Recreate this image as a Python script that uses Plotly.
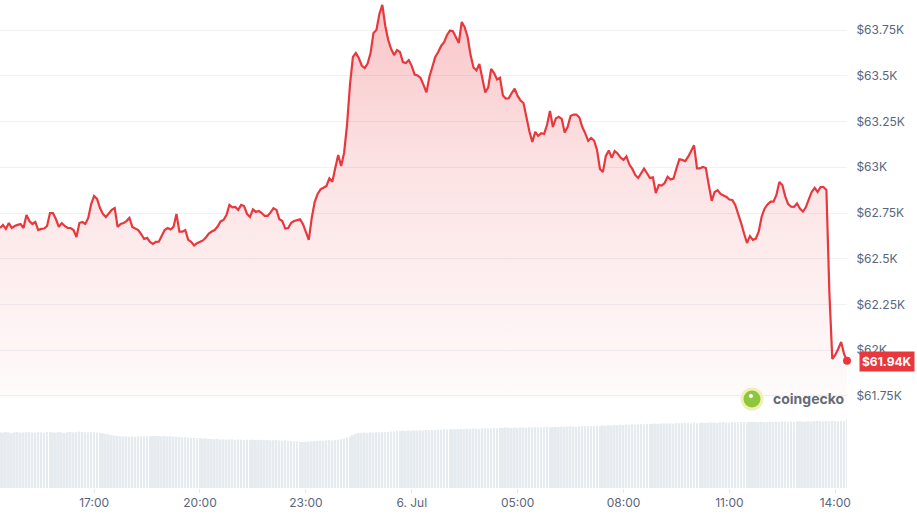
import pandas as pd
import plotly.graph_objects as go

# 24h of 5-minute candles
start_time = "2024-07-05 14:20"

prices = [
    62668, 62685, 62663, 62695, 62668, 62679, 62685, 62690, 62668, 62739, 62706, 62690,
    62701, 62657, 62663, 62665, 62679, 62750, 62750, 62717, 62674, 62695, 62679, 62668,
    62668, 62657, 62619, 62695, 62701, 62690, 62723, 62799, 62843, 62827, 62777, 62745,
    62728, 62750, 62767, 62777, 62674, 62690, 62695, 62706, 62723, 62674, 62665, 62657,
    62635, 62608, 62614, 62592, 62581, 62592, 62593, 62621, 62657, 62668, 62660, 62674,
    62745, 62648, 62648, 62657, 62603, 62592, 62573, 62585, 62592, 62600, 62616, 62638,
    62649, 62657, 62676, 62704, 62712, 62739, 62794, 62781, 62783, 62767, 62794, 62788,
    62745, 62728, 62770, 62756, 62761, 62750, 62734, 62734, 62753, 62776, 62767, 62716,
    62706, 62665, 62668, 62697, 62706, 62712, 62715, 62690, 62641, 62603, 62723, 62810,
    62854, 62879, 62888, 62898, 62939, 62921, 62996, 63067, 63007, 63078, 63231, 63450,
    63603, 63624, 63597, 63556, 63542, 63567, 63624, 63734, 63750, 63838, 63887, 63772,
    63695, 63646, 63613, 63641, 63630, 63575, 63570, 63586, 63553, 63506, 63501, 63488,
    63450, 63409, 63493, 63553, 63603, 63630, 63663, 63684, 63723, 63747, 63743, 63712,
    63679, 63794, 63766, 63712, 63613, 63545, 63529, 63564, 63477, 63409, 63436, 63537,
    63515, 63480, 63489, 63392, 63375, 63377, 63406, 63429, 63390, 63365, 63351, 63264,
    63197, 63138, 63193, 63171, 63186, 63182, 63231, 63308, 63220, 63267, 63276, 63264,
    63190, 63220, 63280, 63288, 63288, 63272, 63220, 63185, 63144, 63160, 63146, 63094,
    62991, 62974, 63062, 63092, 63051, 63089, 63075, 63053, 63040, 63059, 63015, 62991,
    62958, 62941, 62971, 62993, 62967, 62941, 62945, 62859, 62903, 62900, 62914, 62948,
    62933, 62938, 62993, 63043, 63040, 63033, 63058, 63092, 63120, 62994, 62994, 63002,
    62996, 62903, 62816, 62865, 62875, 62854, 62845, 62838, 62824, 62821, 62794, 62750,
    62695, 62638, 62586, 62624, 62603, 62610, 62649, 62731, 62775, 62797, 62812, 62812,
    62849, 62920, 62903, 62841, 62799, 62784, 62783, 62802, 62774, 62758, 62781, 62825,
    62865, 62887, 62865, 62892, 62892, 62876, 62319, 61952, 61974, 62007, 62045, 61980,
    61942,
]

# rolling volume, $B
volumes = [
    24.2, 24.1, 24.3, 24.2, 23.9, 24.2, 24.3, 24.1, 24.2, 24.4, 24.3, 24.2,
    24.1, 24.3, 24.2, 24.0, 24.4, 24.3, 24.2, 24.1, 24.3, 24.2, 24.0, 24.3,
    24.4, 24.2, 24.3, 24.5, 24.4, 24.3, 24.2, 24.4, 24.3, 24.1, 23.9, 23.8,
    23.5, 23.3, 23.0, 22.8, 22.6, 22.5, 22.4, 22.5, 22.3, 22.4, 22.3, 22.4,
    22.5, 22.4, 22.6, 22.5, 22.6, 22.7, 22.6, 22.5, 22.6, 22.4, 22.5, 22.3,
    22.3, 22.2, 22.0, 22.1, 21.9, 21.8, 21.7, 21.6, 21.7, 21.5, 21.6, 21.4,
    21.3, 21.2, 21.3, 21.1, 21.2, 21.0, 21.1, 21.2, 21.0, 21.1, 21.0, 20.9,
    21.0, 20.9, 21.0, 20.8, 20.9, 21.0, 20.8, 20.9, 20.7, 20.8, 20.9, 20.7,
    20.6, 20.7, 20.5, 20.4, 20.3, 20.2, 20.1, 20.0, 20.1, 20.2, 20.3, 20.4,
    20.5, 20.6, 20.5, 20.7, 20.8, 20.7, 20.9, 21.0, 21.2, 21.5, 21.9, 22.4,
    23.0, 23.6, 23.9, 24.0, 24.1, 24.0, 24.2, 24.1, 24.3, 24.2, 24.4, 24.3,
    24.3, 24.5, 24.6, 24.8, 24.7, 24.9, 24.8, 25.0, 24.9, 25.1, 25.0, 25.1,
    25.0, 25.2, 25.1, 25.3, 25.2, 25.4, 25.3, 25.5, 25.4, 25.5, 25.6, 25.5,
    25.6, 25.7, 25.6, 25.8, 25.7, 25.9, 25.8, 25.7, 25.9, 26.0, 25.9, 26.0,
    26.1, 26.0, 26.2, 26.1, 26.3, 26.2, 26.1, 26.3, 26.2, 26.4, 26.3, 26.2,
    26.4, 26.3, 26.5, 26.4, 26.3, 26.5, 26.6, 26.4, 26.5, 26.6, 26.5, 26.7,
    26.6, 26.7, 26.8, 26.7, 26.6, 26.8, 26.9, 26.8, 27.0, 26.9, 27.0, 27.1,
    27.0, 27.2, 27.1, 27.3, 27.2, 27.4, 27.3, 27.5, 27.4, 27.6, 27.5, 27.7,
    27.6, 27.7, 27.8, 27.7, 27.9, 27.8, 27.9, 28.0, 27.9, 28.0, 28.1, 28.0,
    28.1, 28.0, 28.2, 28.1, 28.2, 28.3, 28.2, 28.1, 28.3, 28.2, 28.3, 28.4,
    28.3, 28.4, 28.5, 28.4, 28.3, 28.5, 28.6, 28.5, 28.4, 28.6, 28.5, 28.6,
    28.7, 28.6, 28.5, 28.7, 28.8, 28.7, 28.6, 28.8, 28.7, 28.6, 28.8, 28.7,
    28.8, 28.7, 28.9, 28.8, 28.7, 28.9, 28.8, 28.9, 29.0, 28.9, 28.8, 29.0,
    28.9, 29.0, 29.1, 29.0, 28.9, 29.1, 29.0, 29.2, 29.1, 29.0, 29.2, 29.1,
    29.8,
]

tick_times = ["2024-07-05 17:00", "2024-07-05 20:00", "2024-07-05 23:00", "2024-07-06 02:00",
              "2024-07-06 05:00", "2024-07-06 08:00", "2024-07-06 11:00", "2024-07-06 14:00"]
tick_labels = ["17:00", "20:00", "23:00", "6. Jul", "05:00", "08:00", "11:00", "14:00"]

price_ticks = [61750, 62000, 62250, 62500, 62750, 63000, 63250, 63500, 63750]
price_labels = ["$61.75K", "$62K", "$62.25K", "$62.5K", "$62.75K", "$63K", "$63.25K", "$63.5K", "$63.75K"]

times = pd.date_range(start_time, periods=len(prices), freq="5min")

RED = "#e8383d"
GREY_TXT = "#58667e"
FONT = "Inter"

W, H = 917, 516
PW, PH = 847, 488   # plot area in px
y_lo, y_hi = 61739, 63914

fig = go.Figure()

fig.add_trace(go.Bar(
    x=times, y=volumes, yaxis="y2",
    marker=dict(color="#e6ebf0", line_width=0),
    hoverinfo="skip",
))

fig.add_trace(go.Scatter(
    x=times, y=prices, mode="lines",
    line=dict(color=RED, width=2.2),
    fill="tozeroy",
    fillgradient=dict(type="vertical", start=y_lo, stop=y_hi,
                      colorscale=[[0, "rgba(234,57,67,0.02)"], [0.6, "rgba(234,57,67,0.15)"],
                                  [1, "rgba(234,57,67,0.3)"]]),
    hoverinfo="skip",
))

fig.add_trace(go.Scatter(
    x=[times[-1]], y=[prices[-1]], mode="markers",
    marker=dict(color=RED, size=8), cliponaxis=False, hoverinfo="skip",
))

fig.add_annotation(
    x=times[-1], y=prices[-1], xref="x", yref="y",
    text="<b>$%.2fK</b>" % (prices[-1] / 1000),
    showarrow=False, xanchor="left", yanchor="middle", xshift=12, yshift=-1,
    bgcolor=RED, borderpad=2,
    font=dict(family=FONT, size=12, color="white"),
)

# coingecko watermark
cx, cy, r = 752, 399, 10
fig.add_shape(type="circle", xref="paper", yref="paper",
              x0=(cx - r) / PW, x1=(cx + r) / PW, y0=1 - (cy + r) / PH, y1=1 - (cy - r) / PH,
              fillcolor="#8dc63f", line=dict(color="#f2efb6", width=3), layer="above")
fig.add_shape(type="circle", xref="paper", yref="paper",
              x0=(cx - 3) / PW, x1=(cx + 1) / PW, y0=1 - (cy - 1) / PH, y1=1 - (cy - 5) / PH,
              fillcolor="white", line_width=0, layer="above")
fig.add_annotation(x=771 / PW, y=1 - 398 / PH, xref="paper", yref="paper",
                   text="<b>coingecko</b>", showarrow=False, xanchor="left", yanchor="middle",
                   font=dict(family=FONT, size=14, color="#646b76"))

fig.update_layout(
    width=W, height=H,
    margin=dict(l=0, r=W - PW, t=0, b=H - PH),
    paper_bgcolor="white", plot_bgcolor="white",
    showlegend=False, bargap=0.35,
    font=dict(family=FONT, size=12, color=GREY_TXT),
    xaxis=dict(
        anchor="y2", range=[times[0], times[-1]],
        tickvals=pd.to_datetime(tick_times), ticktext=tick_labels,
        showgrid=False, zeroline=False, showline=False,
        ticks="outside", ticklen=4, tickcolor="#e3e6ea",
        tickfont=dict(family=FONT, size=12, color=GREY_TXT),
    ),
    yaxis=dict(
        domain=[1 - 398 / PH, 1], range=[y_lo, y_hi], side="right", anchor="x",
        tickvals=price_ticks, ticktext=price_labels,
        showgrid=True, gridcolor="#eff1f4", gridwidth=1, zeroline=False,
        ticks="outside", ticklen=6, tickcolor="rgba(0,0,0,0)",
        tickfont=dict(family=FONT, size=12, color=GREY_TXT),
    ),
    yaxis2=dict(
        domain=[0, 70 / PH], range=[0, 70 / 2.3], anchor="x",
        showgrid=False, zeroline=False, showticklabels=False,
    ),
)

# page has a default body margin; drop it so the chart sits at the top-left corner
fig.write_html("out.html", config={"displayModeBar": False},
               post_script="document.body.style.margin='0';")
